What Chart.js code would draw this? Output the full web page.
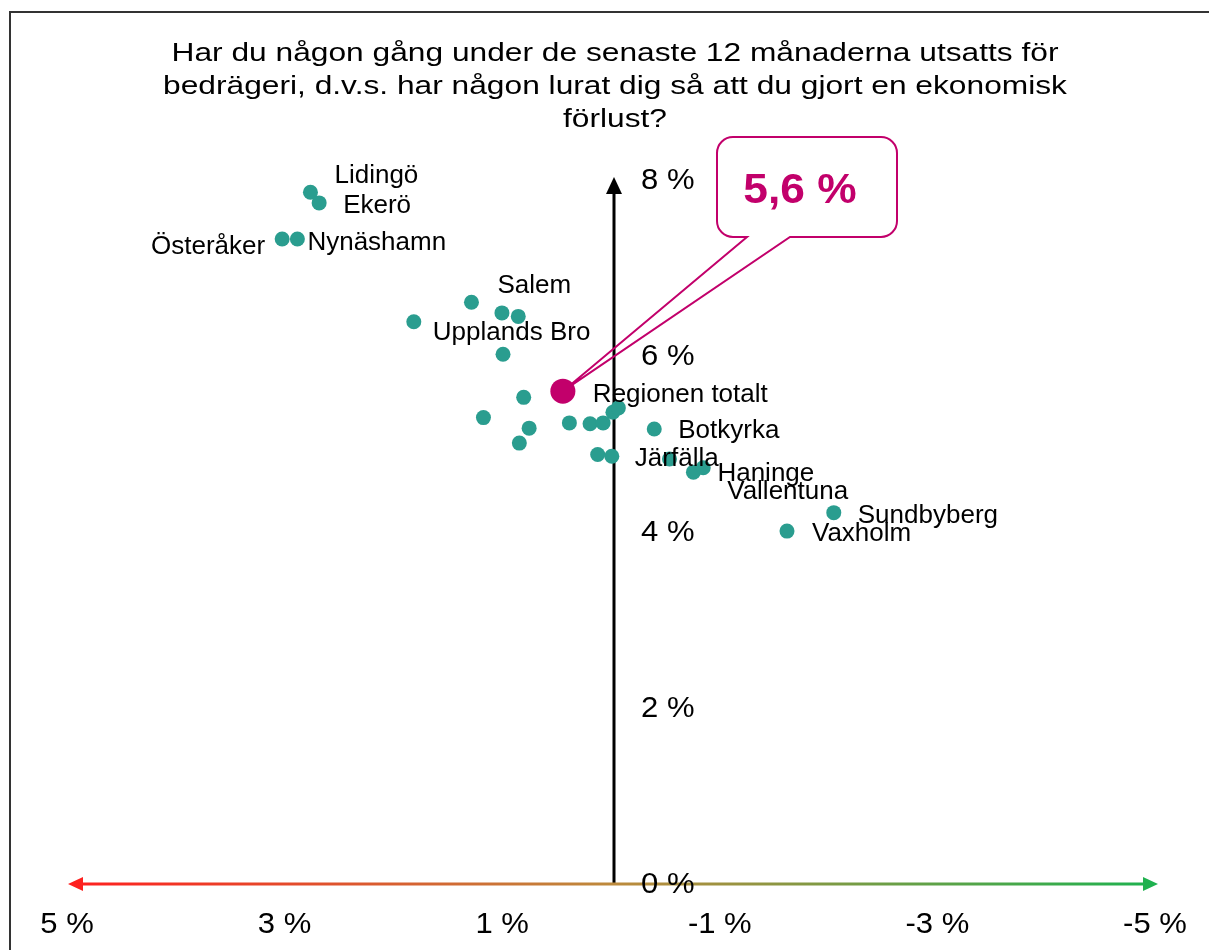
<!DOCTYPE html>
<html>
<head>
<meta charset="utf-8">
<script src="https://cdn.jsdelivr.net/npm/chart.js@4.4.1/dist/chart.umd.min.js"></script>
<style>
  html, body { margin: 0; padding: 0; background: #ffffff; }
  canvas { display: block; }
</style>
</head>
<body>
<canvas id="c" width="1209" height="950"></canvas>
<script>
// ---------- DATA ----------
const titleLines = [
  'Har du någon gång under de senaste 12 månaderna utsatts för',
  'bedrägeri, d.v.s. har någon lurat dig så att du gjort en ekonomisk',
  'förlust?'
];
const municipalityNames = [
  'Lidingö', 'Ekerö', 'Österåker', 'Nynäshamn', 'Salem', '', '', 'Upplands Bro', '',
  '', '', '', '', '', '', '', '', '', '', 'Järfälla', 'Botkyrka', '', 'Haninge',
  'Vallentuna', 'Sundbyberg', 'Vaxholm'
];
// difference vs region (positive = left), in percentage points
const diffValues = [
  2.79, 2.71, 3.05, 2.91, 1.31, 1.03, 0.88, 1.84, 1.02,
  0.83, 1.20, 0.78, 0.87, 0.41, 0.22, 0.10, 0.01, -0.04, 0.15, 0.02, -0.37, -0.51, -0.73,
  -0.82, -2.02, -1.59
];
// share exposed to fraud, %
const shareValues = [
  7.86, 7.74, 7.33, 7.33, 6.61, 6.49, 6.45, 6.39, 6.02,
  5.53, 5.30, 5.18, 5.01, 5.24, 5.23, 5.24, 5.36, 5.41, 4.88, 4.86, 5.17, 4.83, 4.68,
  4.73, 4.22, 4.01
];
const regionName = 'Regionen totalt';
const regionDiff = [0.47];
const regionShare = [5.6];
const xTickValues = [5, 3, 1, -1, -3, -5];
const yTickValues = [0, 2, 4, 6, 8];

// ---------- STYLE / LAYOUT ----------
const FONT = '"Liberation Sans", Arial, Helvetica, sans-serif';
const TEAL = '#2a9d8f';
const MAGENTA = '#c2006b';
// label placement: [dx from dot to text anchor, dy to baseline, align]
const labelPlacement = {
  'Lidingö': [24, -9, 'left'],
  'Ekerö': [24, 10, 'left'],
  'Österåker': [-17, 15, 'right'],
  'Nynäshamn': [10, 11, 'left'],
  'Salem': [26, -9, 'left'],
  'Upplands Bro': [19, 18, 'left'],
  'Järfälla': [23, 10, 'left'],
  'Botkyrka': [24, 9, 'left'],
  'Haninge': [24, 9, 'left'],
  'Vallentuna': [24, 31, 'left'],
  'Sundbyberg': [24, 10, 'left'],
  'Vaxholm': [25, 10, 'left'],
  'Regionen totalt': [30, 11, 'left']
};

function drawText(ctx, text, x, y, align, sx, font, color) {
  ctx.save();
  ctx.font = font;
  ctx.fillStyle = color || '#000';
  ctx.textBaseline = 'alphabetic';
  ctx.textAlign = align;
  ctx.translate(x, y);
  ctx.scale(sx, 1);
  ctx.fillText(text, 0, 0);
  ctx.restore();
}

const municipalityPoints = diffValues.map((v, i) => ({ x: v, y: shareValues[i] }));
const regionPoints = regionDiff.map((v, i) => ({ x: v, y: regionShare[i] }));

const overlay = {
  id: 'overlay',
  beforeDatasetsDraw(chart) {
    const { ctx, scales: { x, y } } = chart;
    const x0 = x.getPixelForValue(0);
    const y0 = y.getPixelForValue(0);
    const yTop = y.getPixelForValue(8);

    // frame
    ctx.save();
    ctx.strokeStyle = '#333';
    ctx.lineWidth = 2;
    ctx.beginPath();
    ctx.moveTo(10, 952);
    ctx.lineTo(10, 12);
    ctx.lineTo(1212, 12);
    ctx.stroke();
    ctx.restore();

    // vertical axis arrow
    ctx.save();
    ctx.strokeStyle = '#000';
    ctx.fillStyle = '#000';
    ctx.lineWidth = 3;
    ctx.beginPath();
    ctx.moveTo(x0, y0);
    ctx.lineTo(x0, yTop + 12);
    ctx.stroke();
    ctx.beginPath();
    ctx.moveTo(x0, yTop - 3);
    ctx.lineTo(x0 - 8, yTop + 14);
    ctx.lineTo(x0 + 8, yTop + 14);
    ctx.closePath();
    ctx.fill();
    ctx.restore();

    // horizontal gradient arrow
    const L = x.getPixelForValue(5) - 2;
    const R = x.getPixelForValue(-5);
    const g = ctx.createLinearGradient(L, 0, R, 0);
    g.addColorStop(0, '#ff1f1f');
    g.addColorStop(0.5, '#bd8a3c');
    g.addColorStop(1, '#1cb24f');
    ctx.save();
    ctx.strokeStyle = g;
    ctx.fillStyle = g;
    ctx.lineWidth = 3;
    ctx.beginPath();
    ctx.moveTo(L + 10, y0);
    ctx.lineTo(R - 10, y0);
    ctx.stroke();
    ctx.beginPath();
    ctx.moveTo(L, y0);
    ctx.lineTo(L + 15, y0 - 7);
    ctx.lineTo(L + 15, y0 + 7);
    ctx.closePath();
    ctx.fill();
    ctx.beginPath();
    ctx.moveTo(R, y0);
    ctx.lineTo(R - 15, y0 - 7);
    ctx.lineTo(R - 15, y0 + 7);
    ctx.closePath();
    ctx.fill();
    ctx.restore();

    // callout
    const tipX = x.getPixelForValue(regionDiff[0]);
    const tipY = y.getPixelForValue(regionShare[0]);
    const bx = 717, by = 137, bw = 180, bh = 100, r = 16;
    ctx.save();
    ctx.fillStyle = '#fff';
    ctx.beginPath();
    ctx.roundRect(bx, by, bw, bh, r);
    ctx.fill();
    ctx.strokeStyle = MAGENTA;
    ctx.lineWidth = 2;
    ctx.beginPath();
    ctx.moveTo(bx + r, by);
    ctx.lineTo(bx + bw - r, by);
    ctx.arcTo(bx + bw, by, bx + bw, by + r, r);
    ctx.lineTo(bx + bw, by + bh - r);
    ctx.arcTo(bx + bw, by + bh, bx + bw - r, by + bh, r);
    ctx.lineTo(790, by + bh);
    ctx.lineTo(tipX, tipY);
    ctx.lineTo(747, by + bh);
    ctx.lineTo(bx + r, by + bh);
    ctx.arcTo(bx, by + bh, bx, by + bh - r, r);
    ctx.lineTo(bx, by + r);
    ctx.arcTo(bx, by, bx + r, by, r);
    ctx.closePath();
    ctx.stroke();
    ctx.restore();
    const calloutText = regionShare[0].toFixed(1).replace('.', ',') + ' %';
    drawText(ctx, calloutText, 800, 203, 'center', 1.03, 'bold 43px ' + FONT, MAGENTA);
  },
  afterDatasetsDraw(chart) {
    const { ctx, chartArea: a, scales: { x, y } } = chart;
    const x0 = x.getPixelForValue(0);
    const labelFont = '26px ' + FONT;

    // data labels
    municipalityNames.forEach((name, i) => {
      if (!name) return;
      const p = labelPlacement[name] || [22, 9, 'left'];
      const px = x.getPixelForValue(diffValues[i]);
      const py = y.getPixelForValue(shareValues[i]);
      drawText(ctx, name, px + p[0], py + p[1], p[2], 1.0, labelFont, '#000');
    });
    {
      const p = labelPlacement[regionName];
      const px = x.getPixelForValue(regionDiff[0]);
      const py = y.getPixelForValue(regionShare[0]);
      drawText(ctx, regionName, px + p[0], py + p[1], p[2], 1.0, labelFont, '#000');
    }

    // y tick labels
    const tickFont = '29px ' + FONT;
    yTickValues.forEach(v => {
      drawText(ctx, v + ' %', x0 + 27, y.getPixelForValue(v) + 9, 'left', 1.07, tickFont, '#000');
    });
    // x tick labels
    xTickValues.forEach(v => {
      drawText(ctx, v + ' %', x.getPixelForValue(v) - 3, a.bottom + 49, 'center', 1.07, tickFont, '#000');
    });

    // title
    const tf = '26px ' + FONT;
    const baselines = [61, 94, 127];
    titleLines.forEach((t, i) => {
      drawText(ctx, t, 615, baselines[i], 'center', 1.22, tf, '#000');
    });
  }
};

new Chart(document.getElementById('c'), {
  type: 'scatter',
  data: {
    datasets: [
      {
        label: 'Kommuner',
        data: municipalityPoints,
        pointRadius: 7.5,
        pointHoverRadius: 7.5,
        pointBackgroundColor: TEAL,
        pointBorderWidth: 0,
        borderWidth: 0
      },
      {
        label: regionName,
        data: regionPoints,
        pointRadius: 12.5,
        pointHoverRadius: 12.5,
        pointBackgroundColor: MAGENTA,
        pointBorderWidth: 0,
        borderWidth: 0
      }
    ]
  },
  options: {
    responsive: false,
    animation: false,
    devicePixelRatio: 1,
    layout: { padding: { left: 70, right: 51, top: 180, bottom: 66 } },
    scales: {
      x: { type: 'linear', min: -5, max: 5, reverse: true, display: false },
      y: { type: 'linear', min: 0, max: 8, display: false }
    },
    plugins: {
      legend: { display: false },
      tooltip: { enabled: false },
      title: { display: false }
    }
  },
  plugins: [overlay]
});
</script>
</body>
</html>
